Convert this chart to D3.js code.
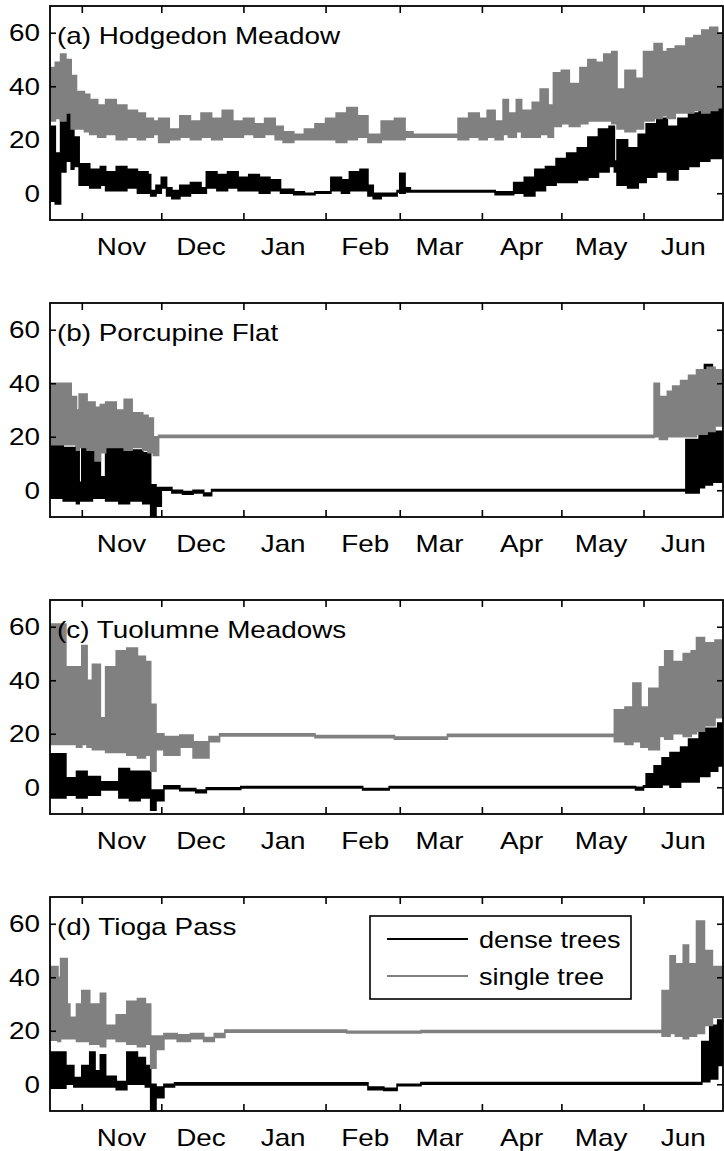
<!DOCTYPE html>
<html><head><meta charset="utf-8">
<script src="https://cdn.jsdelivr.net/npm/d3@7"></script>
<style>body{margin:0;background:#fff}svg{display:block}text{font-family:"Liberation Sans",Arial,Helvetica,sans-serif;fill:#000}</style>
</head><body>
<script>
// ---- data: [day offset from 20 Oct, low, high] held until next entry ----
const panelTitles = ["(a) Hodgedon Meadow","(b) Porcupine Flat","(c) Tuolumne Meadows","(d) Tioga Pass"];
const seriesNames = ["dense trees","single tree"];
const monthLabels = ["Nov","Dec","Jan","Feb","Mar","Apr","May","Jun"];
const yTicks = [0,20,40,60];

const A_dense = [[0,-3,25],[2,-4,15],[4,8,28],[6,12,30],[8,9,26],[9,10,21],[11,3,11],[15,2,9],[19,3,10],[21,1,8],[25,1,10],[29,2,9],[33,0,8],[37,0,7],[38,-1,1],[40,0,3],[42,2,6],[44,-1,2],[46,-2,1],[49,-1,3],[53,0,4],[57,0,2],[59,2,8],[63,1,7],[67,2,8],[71,1,6],[75,1,7],[79,0,6],[83,1,5],[87,0,1.5],[92,-0.5,0.5],[96,-0.5,0],[100,0,0.5],[106,1,6],[110,0,5],[113,1,8],[117,1,9],[120,-1,3],[122,-2,0],[125,-1,0],[131,0.5,1],[132,0,7.5],[134,0.5,2],[136,0.5,1],[168,-0.5,0.5],[175,0,4],[179,-1,6],[183,1,9],[187,3,10],[191,4,13],[195,4,15],[199,5,17],[203,6,21],[207,8,24],[211,10,25],[213,8,12],[214,3,20],[218,2,17],[222,4,22],[225,6,26],[229,8,28],[233,5,25],[237,9,28],[241,10,30],[245,12,31],[249,13,32],[254,13,32]];
const A_single = [[0,27,47],[2,28,49],[4,27,52],[6,30,50],[8,24,44],[10,24,38],[13,23,37],[15,22,35],[18,21,33],[21,22,35],[25,20,33],[29,21,31],[33,20,30],[36,21,28],[39,22,27],[41,19,28],[45,20,24],[49,21,29],[53,20,27],[57,21,30],[61,20,28],[65,21,31],[69,21,27],[73,22,28],[77,21,26],[81,22,28],[85,20,25],[88,19,23],[92,20,22],[96,20,24],[100,20,26],[104,20,28],[108,19,30],[112,20,32],[116,21,29],[120,19,22],[125,20,27],[130,20,28],[134,21,23],[137,21,22],[154,20,28],[158,21,30],[162,20,28],[165,21,31],[168,20,27],[171,22,35],[173,21,30],[176,23,35],[178,21,31],[182,21,34],[185,22,39],[188,21,33],[190,25,45],[193,26,46],[196,25,41],[200,26,47],[203,27,50],[206,27,49],[209,27,52],[212,26,53],[214,24,39],[217,23,46],[221,24,43],[224,27,53],[228,28,56],[231,29,53],[233,28,54],[236,30,55],[240,30,58],[243,31,59],[246,30,61],[249,31,62],[252,32,60],[254,32,60]];

const B_dense = [[0,-3,17],[5,-4,16],[10,-5,17],[11,-4,3],[12,-4,17],[16,-3,15],[19,-3,5],[21,-4,17],[26,-5,16],[30,-4,15],[35,-5,14],[38,-10,2],[40,-6,1],[42,0,1],[46,-1,0],[50,-1.5,-0.5],[54,-1,0],[58,-2,-1],[61,-0.3,0.3],[240,-1,19],[245,1,21],[247,2,47],[250,3,22],[254,3,22]];
const B_single = [[0,17,40],[8,17,35],[10,15,30],[11,16,36],[14,15,33],[17,11,31],[19,14,32],[21,16,33],[25,16,30],[28,15,34],[31,16,29],[35,15,28],[37,14,27],[39,13,20],[41,19.7,20.5],[228,20,40],[230,19,35],[233,20,37],[235,20,39],[238,20,41],[241,20,43],[244,21,45],[248,22,46],[251,24,45],[254,24,45]];

const C_dense = [[0,-4,12.5],[6,-3,3.5],[10,-4,6],[14,-3,4],[19,-1,2],[26,-4,7],[30,-5,6],[34,-4,6],[38,-8.6,-1],[40,-5,-1],[43,-0.5,0.5],[49,-1.3,-0.5],[55,-2,-1],[59,-0.8,-0.2],[72,-0.3,0.3],[118,-1,-0.5],[128,-0.3,0.3],[221,-1,0],[224,0,0.5],[225,0,5],[228,0,8],[231,1,11],[234,0,13],[238,2,15],[241,2,18],[245,4,22],[249,6,22],[252,8,24],[254,8,24]];
const C_single = [[0,16,61],[6,16,45],[10,15,45],[12,16,53],[14,15,40],[16,14,46],[19,14,26],[21,13,45],[25,13,51],[29,12,52],[33,11,49],[36,12,47],[38,6,31],[40,14,20],[43,12,19],[49,15,19.5],[54,11,17],[60,17,19],[64,19.2,20],[100,18.5,19.3],[130,18,18.8],[150,19,19.8],[213,17,29],[217,16,30],[220,17,39],[223,15,30],[226,14,37],[230,19,45],[232,18,51],[235,20,47],[239,19,50],[242,20,51],[244,21,56],[247,23,54],[251,26,55],[254,26,55]];

const D_dense = [[0,-1.5,12],[6,0,7],[9,-1,2.5],[12,-1,7],[15,-1,12],[17,-1,5],[19,-1,11],[21,-1,3],[25,-2,1],[29,0,12],[33,0,10],[36,-1,7],[38,-10,0],[40,-5,-1],[43,-1,0],[47,-0.3,0.5],[120,-2,-1],[126,-2.3,-1.5],[131,-0.5,0],[140,0,0.6],[246,1,16],[249,2,22],[252,7,24],[254,7,24]];
const D_single = [[0,16.5,44],[3,16,40],[4,17,47],[6.5,17,30],[7.5,17,25],[10,16,30],[12,16,35],[15,15,30],[19,14,34],[21,17,22],[25,16,26],[29,15,31],[33,14,32],[36,15,30],[38,6,18],[40,13,18],[43,17,19],[48,16,18.5],[53,17,19],[58,16,17.5],[62,17.5,19],[66,19.5,20.3],[112,19.2,19.8],[140,19.4,20.1],[231,18,35],[234,19,48],[236,18,45],[239,17,52],[241,18,45],[244,19,61],[247,22,50],[250,25,44],[254,25,44]];

const panelsDense = [A_dense,B_dense,C_dense,D_dense];
const panelsSingle = [A_single,B_single,C_single,D_single];
const colors = ["#000000","#808080"];

// ---- layout ----
const W=724,H=1151,L=50,R=723,PH=214;
const tops=[6,303,600,897];
const SX=1.16;
const start=new Date(Date.UTC(2006,9,20)), end=new Date(Date.UTC(2007,6,1));
const toDate=d=>new Date(start.getTime()+d*864e5);
const x=d3.scaleUtc().domain([start,end]).range([L,R]);
const monthStarts=d3.utcMonth.range(new Date(Date.UTC(2006,10,1)),new Date(Date.UTC(2007,6,1)));
const monthMids=monthStarts.map(m=>new Date(m.getTime()+15*864e5));

const svg=d3.select("body").append("svg").attr("width",W).attr("height",H);

panelTitles.forEach((title,i)=>{
  const top=tops[i], bot=top+PH;
  const y=d3.scaleLinear().domain([-10,70]).range([bot,top]);
  const g=svg.append("g");
  const cid="clip"+i;
  g.append("clipPath").attr("id",cid).append("rect").attr("x",L).attr("y",top).attr("width",R-L).attr("height",PH);
  const area=d3.area().x(d=>x(toDate(d[0]))).y0(d=>y(d[1])).y1(d=>y(d[2])).curve(d3.curveStepAfter);
  const pg=g.append("g").attr("clip-path",`url(#${cid})`);
  [panelsDense[i],panelsSingle[i]].forEach((s,k)=>{
    pg.append("path").datum(s).attr("d",area).attr("fill",colors[k]).attr("stroke",colors[k]).attr("stroke-width",1.6).attr("stroke-linejoin","miter");
  });
  const tickStyle=sel=>{sel.select(".domain").remove();sel.selectAll("line").attr("stroke","#000").attr("stroke-width",1.6);};
  g.append("g").attr("transform",`translate(0,${bot})`).call(d3.axisBottom(x).tickValues(monthStarts).tickSize(-7).tickFormat("")).call(tickStyle);
  g.append("g").attr("transform",`translate(0,${top})`).call(d3.axisTop(x).tickValues(monthStarts).tickSize(-7).tickFormat("")).call(tickStyle);
  g.append("g").attr("transform",`translate(${L},0)`).call(d3.axisLeft(y).tickValues(yTicks).tickSize(-6).tickFormat("")).call(tickStyle);
  g.append("g").attr("transform",`translate(${R},0)`).call(d3.axisRight(y).tickValues(yTicks).tickSize(-6).tickFormat("")).call(tickStyle);
  g.append("rect").attr("x",L).attr("y",top).attr("width",R-L).attr("height",PH).attr("fill","none").attr("stroke","#000").attr("stroke-width",1.8);
  yTicks.forEach(t=>{
    g.append("text").attr("transform",`translate(${L-10},${y(t)}) scale(${SX},1)`).attr("text-anchor","end").attr("dy","0.36em").attr("font-size",24).text(t);
  });
  monthMids.forEach((m,j)=>{
    g.append("text").attr("transform",`translate(${x(m)},${bot+35}) scale(${SX},1)`).attr("text-anchor","middle").attr("font-size",24).text(monthLabels[j]);
  });
  g.append("text").attr("transform",`translate(${L+7},${top+38}) scale(${SX},1)`).attr("font-size",24).text(title);
});

// legend in panel d
const lg=svg.append("g");
lg.append("rect").attr("x",370).attr("y",916).attr("width",261).attr("height",83).attr("fill","#fff").attr("stroke","#000").attr("stroke-width",1.6);
seriesNames.forEach((n,k)=>{
  const yy=939+k*37;
  lg.append("line").attr("x1",387).attr("x2",468).attr("y1",yy).attr("y2",yy).attr("stroke",colors[k]).attr("stroke-width",2);
  lg.append("text").attr("transform",`translate(479,${yy+9}) scale(1.13,1)`).attr("font-size",24).text(n);
});
</script>
</body></html>
